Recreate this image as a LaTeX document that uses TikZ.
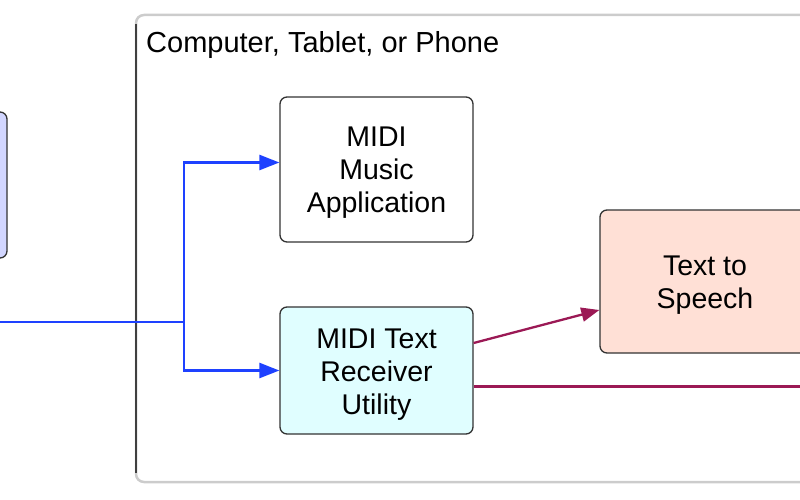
\documentclass[tikz,border=0pt]{standalone}
\usepackage{fontspec}
\setmainfont{Liberation Sans}
\usetikzlibrary{arrows.meta}
\usepackage{xcolor}

\definecolor{azul}{RGB}{30,65,255}
\definecolor{purpura}{RGB}{155,25,85}
\definecolor{lavanda}{RGB}{210,214,255}
\definecolor{cian}{RGB}{224,254,255}
\definecolor{salmon}{RGB}{255,224,214}

\begin{document}
\begin{tikzpicture}[x=1pt,y=-1pt,
    caja/.style={draw=black!80, line width=1.3pt, rounded corners=7pt, align=center,
                 inner sep=0pt, font=\fontsize{28.5}{33}\selectfont},
    lineaazul/.style={azul, line width=2.7pt},
    flechaazul/.style={lineaazul, -{Triangle[length=20pt,width=15pt]}},
    lineapurpura/.style={purpura, line width=2.3pt},
    flechapurpura/.style={lineapurpura, -{Triangle[length=18pt,width=14pt]}}]
    \useasboundingbox (0,0) rectangle (800,500);
    \clip (0,0) rectangle (800,500);

    % Marco del equipo
    \draw[black!20, line width=2.5pt, rounded corners=8pt] (136,15) rectangle (900,482);
    \draw[black!75, line width=1.5pt] (136,24) -- (136,473);
    \node[anchor=base west, inner sep=0pt, font=\fontsize{29}{33}\selectfont] (titulo) at (146,53)
        {Computer, Tablet, or Phone};

    % Cajas
    \node[caja, fill=lavanda, minimum width=200pt, minimum height=146pt] (teclado) at (-93,185) {};
    \node[caja, fill=white, text height=92pt, minimum width=193pt, minimum height=145pt] (musica)
        at (376.5,169.5) {MIDI\\Music\\Application};
    \node[caja, fill=cian, text height=94pt, minimum width=193pt, minimum height=127pt] (receptor)
        at (376.5,370.5) {MIDI Text\\Receiver\\Utility};
    \node[caja, fill=salmon, text height=59pt, minimum width=210pt, minimum height=143pt] (voz)
        at (705,281.5) {Text to\\Speech};

    % Conexiones MIDI
    \coordinate (entrada) at (0,322);
    \coordinate (rama) at (184,322);
    \draw[lineaazul] (entrada) -- (rama);
    \draw[flechaazul] (rama) |- ([yshift=7pt]musica.west);
    \draw[flechaazul] (rama) |- (receptor.west);

    % Salidas del receptor
    \coordinate (salida) at (810,386.5);
    \draw[flechapurpura] ([yshift=27.5pt]receptor.east) -- ([yshift=-28.5pt]voz.west);
    \draw[lineapurpura] ([yshift=-16pt]receptor.east) -- (salida);
\end{tikzpicture}
\end{document}
